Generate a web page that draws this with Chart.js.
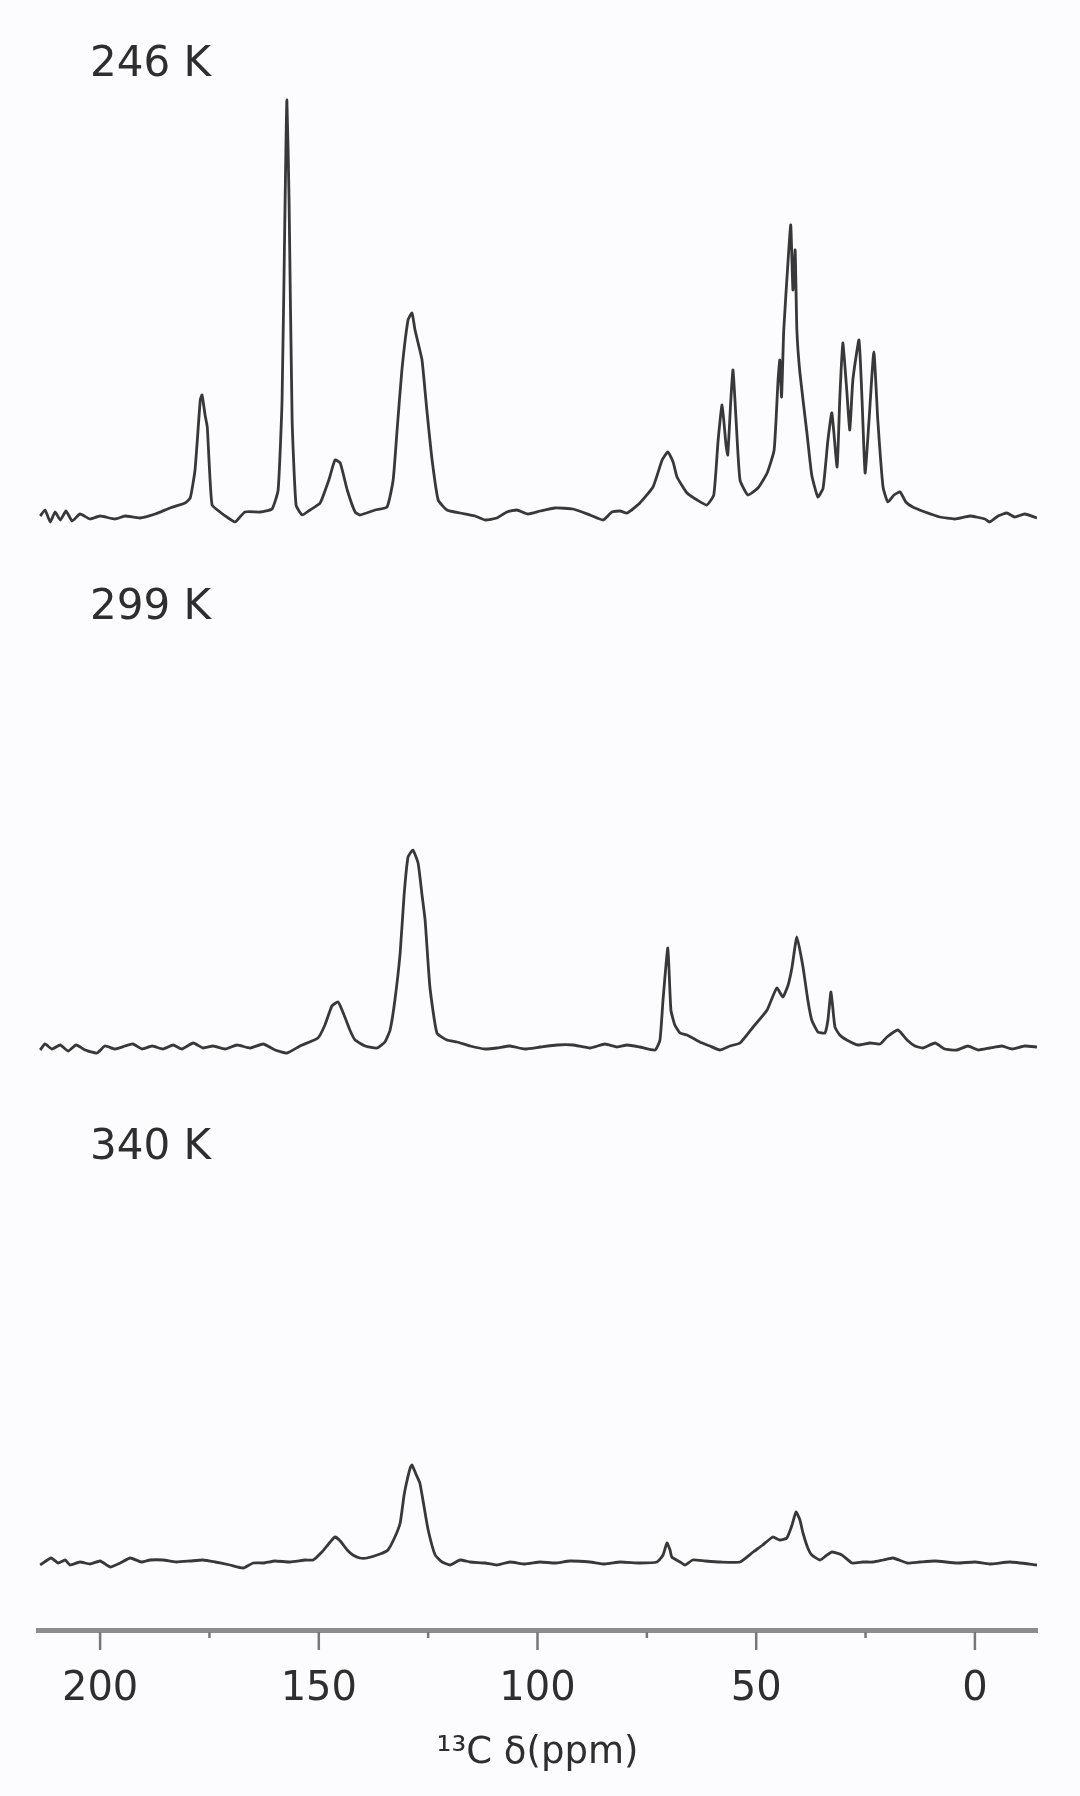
<!DOCTYPE html>
<html>
<head>
<meta charset="utf-8">
<script src="https://cdn.jsdelivr.net/npm/chart.js@4.4.1/dist/chart.umd.min.js"></script>
<style>
  html, body { margin: 0; padding: 0; background: #fcfbfd; }
  #wrap { width: 1080px; height: 1796px; }
</style>
</head>
<body>
<div id="wrap"><canvas id="nmr" width="1080" height="1796"></canvas></div>
<script>
// spectra: [ppm, intensity above the trace baseline]
const spec246 = [
  [213.7,1],[212.6,7],[211.4,-5],[210.3,5],[209.1,-3],[207.8,6],[206.4,-4],[204.6,3],[202.3,-2],[200,1],
  [196.6,-2],[194.3,1],[190.9,-1],[187.4,3],[184,9],[180.6,14],[179.4,19],[178.3,47],[177.1,117],[176.7,122],
  [176,102],[175.5,90],[175.1,57],[174.4,12],[172.6,5],[170.7,-1],[169.1,-5],[166.9,5],[163.4,5],[160.7,8],
  [159.3,27],[158.4,117],[157.7,317],[157.3,417],[156.8,317],[156.1,97],[155.2,12],[153.8,2],[152,7],[149.7,14],
  [147.7,37],[146.3,57],[145.1,54],[143.5,27],[141.7,5],[140.6,2],[137.1,7],[134.4,10],[133,37],[132.1,87],
  [131,147],[129.6,197],[128.7,204],[128,187],[127.3,174],[126.4,157],[125.3,107],[124.1,57],[122.7,17],[120.7,7],
  [117.7,4],[114.3,1],[112,-3],[109.3,-1],[107,5],[104.7,7],[102.2,3],[99.4,6],[96,9],[91.9,8],
  [88,2],[85,-3],[83,5],[81.1,6],[79.5,4],[76.6,14],[73.6,30],[71.5,57],[70.2,65],[69,55],
  [68.1,40],[65.8,24],[63.5,17],[61.3,12],[59.7,22],[58.7,77],[57.8,112],[56.9,72],[56.5,62],[55.8,117],
  [55.3,147],[54.6,97],[53.7,37],[51.9,22],[49.6,29],[47.5,44],[45.9,67],[45,137],[44.6,157],[44.2,120],
  [43.7,187],[42.7,257],[42.1,292],[41.6,227],[41.1,267],[40.7,187],[40,144],[38.4,84],[37.3,42],[35.9,20],
  [34.7,29],[33.6,77],[32.7,104],[31.5,50],[30.9,117],[30.2,174],[29.3,127],[28.6,87],[27.9,137],[26.5,177],
  [25.8,117],[25.1,44],[24.2,97],[23.1,165],[22.2,97],[21,30],[19.9,15],[18.5,22],[17.1,25],[15.8,15],
  [14.2,10],[11.4,5],[8,0],[4.6,-2],[1.1,1],[-2.3,-2],[-3.4,-5],[-5.3,1],[-7.3,4],[-9.1,0],
  [-11.4,3],[-14.2,-1]
];

const spec299 = [
  [213.7,-3],[212.6,3],[211,-2],[209.1,2],[207.3,-4],[205.5,2],[203.4,-3],[200.7,-6],[198.9,1],[196.6,-2],
  [194.3,1],[192.5,3],[190.4,-2],[188.1,1],[185.6,-2],[183.3,2],[181.3,-2],[178.7,4],[176.5,-1],[174.2,1],
  [171.4,-2],[168.7,2],[165.7,-1],[162.7,3],[160,-3],[157.3,-6],[154.3,1],[150.2,9],[148.6,22],[147,41],
  [145.6,45],[144.5,35],[142.9,17],[141.7,7],[139.4,1],[136.7,-1],[134.9,5],[133.7,17],[132.6,47],[131.4,94],
  [130.5,152],[129.6,190],[128.5,197],[127.3,184],[126.4,152],[125.7,127],[124.6,60],[123,14],[120.7,7],[118.4,5],
  [115.4,1],[112,-2],[109.3,-1],[106.3,1],[102.9,-2],[99.4,0],[95.5,2],[91.9,2],[88,-1],[84.6,3],
  [81.8,0],[79.5,2],[76.6,0],[73.1,-3],[72,7],[71.3,47],[70.2,99],[69.5,37],[68.6,22],[67.4,14],
  [65.8,12],[62.9,5],[60.6,1],[58.3,-3],[56,1],[53.7,4],[50.7,20],[47.5,37],[45.3,59],[43.9,50],
  [42.7,62],[41.8,80],[40.7,110],[39.3,80],[38.2,47],[37.3,27],[35.9,15],[34.3,14],[33.6,27],[32.9,55],
  [32,20],[30.9,12],[29.3,7],[26.7,2],[24,4],[21.7,3],[20.1,10],[17.6,17],[15.5,7],[13.7,1],
  [11.9,-1],[9.1,4],[6.9,-2],[4.1,-3],[1.6,1],[-0.7,-3],[-3.4,-1],[-6.2,1],[-8.5,-2],[-11.4,1],
  [-14.2,0]
];

const spec340 = [
  [213.7,-2],[211.2,5],[209.6,0],[208,3],[206.9,-2],[204.6,1],[202.3,-1],[200,2],[197.7,-4],[195.4,0],
  [193.1,5],[190.6,1],[188.6,3],[185.6,3],[182.6,1],[179.4,2],[176.5,3],[173.7,1],[170.3,-2],[167.3,-5],
  [165,0],[162.7,0],[160,2],[156.6,1],[153.1,3],[151.3,3],[149.3,11],[147.4,21],[146.3,26],[145.1,22],
  [143.5,13],[142.2,8],[140.6,5],[139,5],[136,9],[134.2,13],[132.6,26],[131.4,40],[130.5,68],[129.8,83],
  [129.1,95],[128.7,98],[127.8,89],[126.9,80],[126,58],[125,33],[123.4,8],[121.8,1],[120,-2],[117.7,3],
  [115.4,1],[112,0],[109.3,-2],[106.3,1],[102.9,-1],[99.4,1],[96,0],[92.6,2],[88,1],[84.6,-1],
  [81.1,1],[76.6,0],[72.7,1],[71.3,8],[70.4,20],[69.7,13],[69.3,6],[67.4,1],[66.3,-2],[64.5,3],
  [61.7,2],[58.3,1],[53.7,1],[50.7,11],[48.5,18],[46.2,26],[44.6,23],[43,25],[41.8,38],[40.9,51],
  [40,43],[39.3,30],[38.2,15],[37.3,8],[35.4,3],[34.1,7],[32.7,11],[30.4,8],[28.1,0],[25.6,1],
  [23.3,1],[21,3],[18.7,5],[15.5,0],[12.6,1],[9.1,2],[4.1,0],[0,1],[-3.4,-1],[-8,1],
  [-14.2,-2]
];

const tempLabels = ['246 K', '299 K', '340 K'];
const tickValues = [200, 175, 150, 125, 100, 75, 50, 25, 0];
const axisTitle = '\u00b9\u00b3C \u03b4(ppm)';

// vertical stacking of the traces (baseline of each trace above the axis)
const traceOffsets = [1113, 583, 67];
const labelRise = [452, 439, 415];
const labelPpm = 202.3;

const lineColor = '#383838';
const fontFamily = '"DejaVu Sans", Verdana, sans-serif';

const datasets = [spec246, spec299, spec340].map((spec, i) => ({
  label: tempLabels[i],
  data: spec.map(p => ({ x: p[0], y: p[1] + traceOffsets[i] })),
  borderColor: lineColor,
  borderWidth: 2.8,
  borderJoinStyle: 'round',
  pointRadius: 0,
  tension: 0.15,
  fill: false,
}));

// tick marks under the axis line: long for labelled values, short in between
const axisTicks = {
  id: 'axisTicks',
  afterDraw(chart) {
    const sx = chart.scales.x;
    const ctx = chart.ctx;
    const y0 = chart.chartArea.bottom;
    ctx.save();
    ctx.strokeStyle = '#777';
    ctx.lineWidth = 2.5;
    sx.ticks.forEach(t => {
      const px = sx.getPixelForValue(t.value);
      const len = t.value % 50 === 0 ? 20 : 8;
      ctx.beginPath();
      ctx.moveTo(px, y0 + 2);
      ctx.lineTo(px, y0 + len);
      ctx.stroke();
    });
    ctx.restore();
  }
};

// temperature labels above each trace
const tempText = {
  id: 'tempText',
  afterDatasetsDraw(chart) {
    const sx = chart.scales.x, sy = chart.scales.y;
    const ctx = chart.ctx;
    ctx.save();
    ctx.fillStyle = '#2e2e2e';
    ctx.font = '42px ' + fontFamily;
    ctx.textAlign = 'left';
    ctx.textBaseline = 'middle';
    tempLabels.forEach((t, i) => {
      ctx.fillText(t, sx.getPixelForValue(labelPpm), sy.getPixelForValue(traceOffsets[i] + labelRise[i]));
    });
    ctx.restore();
  }
};

new Chart(document.getElementById('nmr'), {
  type: 'line',
  data: { datasets },
  plugins: [axisTicks, tempText],
  options: {
    responsive: false,
    animation: false,
    layout: { padding: { top: 30, left: 38, right: 43, bottom: 0 } },
    plugins: { legend: { display: false }, tooltip: { enabled: false } },
    scales: {
      x: {
        type: 'linear',
        reverse: true,
        min: -14.2,
        max: 214.2,
        afterFit: (scale) => { scale.height = 166; },
        border: { display: true, color: '#8c8c8c', width: 5 },
        grid: { display: true, drawOnChartArea: false, drawTicks: false },
        ticks: {
          includeBounds: false,
          autoSkip: false,
          stepSize: 25,
          padding: 36,
          color: '#2e2e2e',
          font: { family: fontFamily, size: 40 },
          callback: (v) => (v % 50 === 0 ? String(v) : ''),
        },
        afterBuildTicks: (scale) => { scale.ticks = tickValues.map(v => ({ value: v })); },
        title: {
          display: true,
          text: axisTitle,
          color: '#2e2e2e',
          font: { family: fontFamily, size: 37 },
          padding: { top: 0, bottom: 20 },
        },
      },
      y: {
        type: 'linear',
        display: false,
        min: 0,
        max: 1600,
      },
    },
  },
});
</script>
</body>
</html>
